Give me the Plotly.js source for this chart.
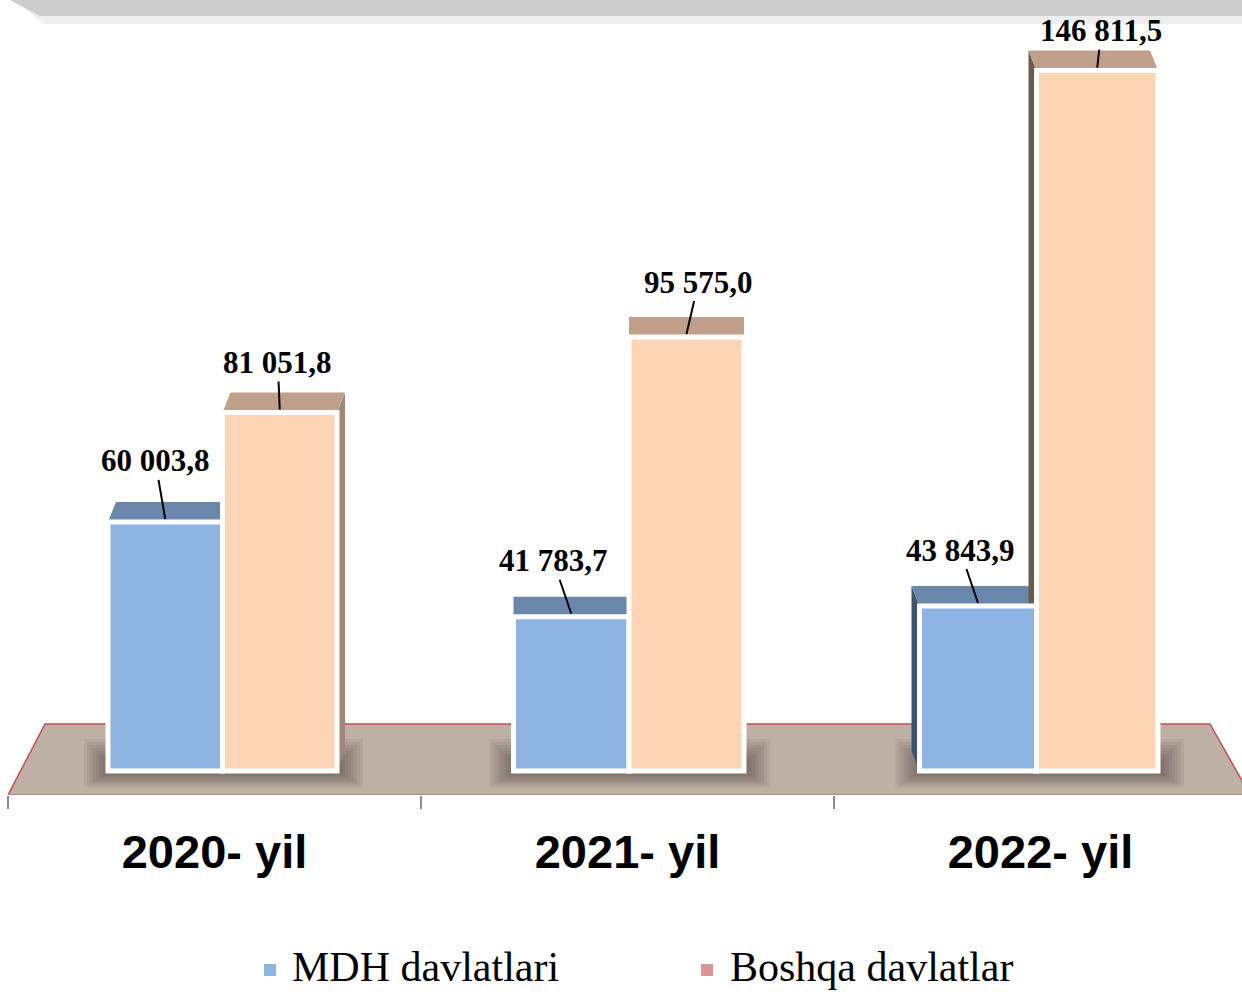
<!DOCTYPE html>
<html>
<head>
<meta charset="utf-8">
<script src="https://cdn.plot.ly/plotly-3.0.1.min.js"></script>
<style>html,body{margin:0;padding:0;background:#fff;}#chart{width:1242px;height:994px;}</style>
</head>
<body>
<div id="chart"></div>
<script>
// ---- data ----
const years = ['2020- yil', '2021- yil', '2022- yil'];
const mdh = [60003.8, 41783.7, 43843.9];
const boshqa = [81051.8, 95575.0, 146811.5];
const seriesNames = ['MDH davlatlari', 'Boshqa davlatlar'];

// ---- geometry (layout only) ----
const W = 1242, H = 994;
const M = {l: 8, r: 0, t: 0, b: 199};
const PW = W - M.l - M.r, PH = H - M.t - M.b;
const PX_PER_CAT = 413;
const PX_PER_VAL = 0.0052;
const ZERO_PX = 834;
const xr = [-0.5, -0.5 + PW / PX_PER_CAT];
const yr = [(ZERO_PX - PH) / PX_PER_VAL, ZERO_PX / PX_PER_VAL];
const px2x = p => -0.5 + (p - M.l) / PX_PER_CAT;
const py2y = p => (ZERO_PX - p) / PX_PER_VAL;
const dxu = p => p / PX_PER_CAT;
const dyu = p => p / PX_PER_VAL;
const ppx = p => (p - M.l) / PW;
const ppy = p => (M.t + PH - p) / PH;

const FLOOR = py2y(771);
// bar edge positions (px) per category: [left of MDH, split, right of Boshqa] (perspective spread)
const barEdges = [[108, 222.5, 337], [513.5, 629, 744], [919.5, 1036.5, 1158]];
const DEPTH = 20;            // px depth of top faces
const SHIFT = [8, 0, -8];    // perspective shift per category (px)

const frontCols = ['#8DB4E2', '#FCD5B5'];
const topCols = ['#6B88AC', '#C0A08A'];
const sideCols = [['#3E536D', '#A08878'], ['#3E536D', '#A08878'], ['#3E536D', '#6B5B4E']];
const legendCols = ['#8DB4E2', '#D99694'];

function fmt(v) {
  const s = v.toFixed(1).split('.');
  return s[0].replace(/\B(?=(\d{3})+(?!\d))/g, ' ') + ',' + s[1];
}
// bar x extents in data units
const barX = (i, k) => [px2x(barEdges[i][k]), px2x(barEdges[i][k + 1])];

const series = [mdh, boshqa];
const traces = series.map((vals, k) => ({
  type: 'bar',
  x: years,
  y: vals.map(v => v - FLOOR),
  base: vals.map(() => FLOOR),
  offset: years.map((_, i) => barX(i, k)[0] - i),
  width: years.map((_, i) => barX(i, k)[1] - barX(i, k)[0]),
  name: seriesNames[k],
  showlegend: false,
  hoverinfo: 'skip',
  marker: {color: frontCols[k], line: {color: '#FFFFFF', width: 5}}
}));

const shapes = [];
// top gray band
shapes.push({type: 'path', xref: 'paper', yref: 'paper', layer: 'below',
  path: `M ${ppx(14)} ${ppy(0)} L ${ppx(1260)} ${ppy(0)} L ${ppx(1260)} ${ppy(24)} L ${ppx(44)} ${ppy(24)} Z`,
  fillcolor: '#EEEEEE', line: {width: 0}});
shapes.push({type: 'path', xref: 'paper', yref: 'paper', layer: 'below',
  path: `M ${ppx(10)} ${ppy(0)} L ${ppx(1260)} ${ppy(0)} L ${ppx(1260)} ${ppy(16)} L ${ppx(40)} ${ppy(16)} Z`,
  fillcolor: '#CCCCCC', line: {width: 0}});
// floor
shapes.push({type: 'path', xref: 'x', yref: 'y', layer: 'below',
  path: `M ${px2x(8)} ${py2y(795)} L ${px2x(45)} ${py2y(724)} L ${px2x(1210)} ${py2y(724)} L ${px2x(1250)} ${py2y(795)} Z`,
  fillcolor: '#BFB0A5', line: {color: '#C0504D', width: 1.5}});
shapes.push({type: 'line', xref: 'x', yref: 'y', layer: 'below',
  x0: px2x(8), x1: px2x(1250), y0: py2y(795), y1: py2y(795),
  line: {color: '#B08A86', width: 2}});

// soft shadows around each bar group
years.forEach((yv, i) => {
  const gx0 = barX(i, 0)[0], gx1 = barX(i, 1)[1];
  for (let inf = 24; inf >= 2; inf -= 3) {
    shapes.push({type: 'rect', xref: 'x', yref: 'y', layer: 'below',
      x0: gx0 - dxu(inf), x1: gx1 + dxu(inf + 2),
      y0: FLOOR - dyu(inf * 0.6 + 2), y1: FLOOR + dyu(inf + 8),
      fillcolor: '#3A2E26', opacity: 0.07, line: {width: 0}});
  }
});
years.forEach((yv, i) => {
  const s = SHIFT[i];
  series.forEach((vals, k) => {
    const [x0, x1] = barX(i, k);
    const top = vals[i];
    if (s > 0 && k === 1) {
      shapes.push({type: 'path', xref: 'x', yref: 'y', layer: 'below',
        path: `M ${x1} ${top} L ${x1 + dxu(s)} ${top + dyu(DEPTH)} L ${x1 + dxu(s)} ${FLOOR + dyu(DEPTH)} L ${x1} ${FLOOR} Z`,
        fillcolor: sideCols[i][k], line: {width: 0}});
    }
    if (s < 0) {
      shapes.push({type: 'path', xref: 'x', yref: 'y', layer: 'below',
        path: `M ${x0} ${top} L ${x0 + dxu(s)} ${top + dyu(DEPTH)} L ${x0 + dxu(s)} ${FLOOR + dyu(DEPTH)} L ${x0} ${FLOOR} Z`,
        fillcolor: sideCols[i][k], line: {width: 0}});
    }
    shapes.push({type: 'path', xref: 'x', yref: 'y', layer: 'below',
      path: `M ${x0} ${top} L ${x1} ${top} L ${x1 + dxu(s)} ${top + dyu(DEPTH)} L ${x0 + dxu(s)} ${top + dyu(DEPTH)} Z`,
      fillcolor: topCols[k], line: {width: 0}});
  });
});

// value labels with leader lines (offsets in px from the bar top)
const labelOffsets = [[[-10, -58], [-2, -47]], [[-18, -53], [12, -52]], [[-18, -53], [4, -37]]];
const annotations = [];
years.forEach((yv, i) => {
  series.forEach((vals, k) => {
    const [x0, x1] = barX(i, k);
    annotations.push({
      x: (x0 + x1) / 2, y: vals[i] + dyu(3), xref: 'x', yref: 'y',
      text: fmt(vals[i]), showarrow: true, arrowhead: 0, arrowwidth: 2, arrowcolor: '#000',
      ax: labelOffsets[i][k][0], ay: labelOffsets[i][k][1], standoff: 0,
      font: {family: 'Liberation Serif, Times New Roman, serif', size: 31, color: '#000', weight: 700}
    });
  });
});

// legend (keys + text placed at the bottom edge)
const legendPos = [[270, 290], [707, 728]];
seriesNames.forEach((n, k) => {
  const [mx, tx] = legendPos[k];
  shapes.push({type: 'rect', xref: 'paper', yref: 'paper', layer: 'above',
    x0: ppx(mx - 6), x1: ppx(mx + 6), y0: ppy(976), y1: ppy(964),
    fillcolor: legendCols[k], line: {width: 0}});
  annotations.push({xref: 'paper', yref: 'paper', x: ppx(tx), y: ppy(967),
    xanchor: 'left', yanchor: 'middle', showarrow: false, text: n,
    font: {family: 'Liberation Serif, Times New Roman, serif', size: 42, color: '#000'}});
});

const layout = {
  width: W, height: H,
  margin: M,
  paper_bgcolor: '#FFFFFF', plot_bgcolor: 'rgba(0,0,0,0)',
  barmode: 'group',
  xaxis: {type: 'category', range: xr, tickson: 'boundaries', ticks: 'outside', ticklen: 13,
    tickcolor: '#8C8C8C', tickwidth: 1.5, showline: false, showgrid: false, zeroline: false,
    tickfont: {family: 'Liberation Sans, Arial, sans-serif', size: 47, color: '#000', weight: 700},
    ticklabelstandoff: 25, fixedrange: true},
  yaxis: {range: yr, visible: false, showgrid: false, zeroline: false, fixedrange: true},
  showlegend: false,
  shapes: shapes,
  annotations: annotations
};

Plotly.newPlot('chart', traces, layout, {displayModeBar: false, staticPlot: true});
</script>
</body>
</html>
